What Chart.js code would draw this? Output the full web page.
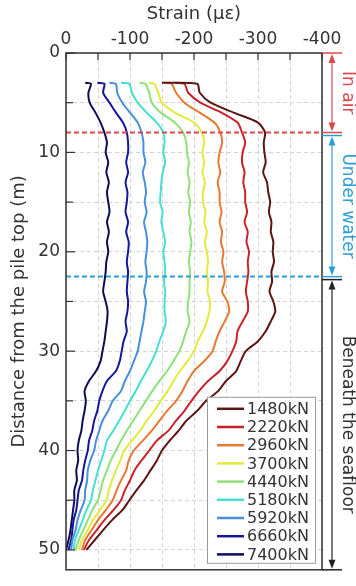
<!DOCTYPE html>
<html lang="en">
<head>
<meta charset="UTF-8">
<title>Strain along the pile</title>
<script src="https://cdn.jsdelivr.net/npm/chart.js"></script>
<style>
  html, body { margin: 0; padding: 0; background: #fff; }
</style>
</head>
<body>
<canvas id="strainChart" width="356" height="586"></canvas>
<script>
// depth below pile top (m), shared by every load case
const depths = [3, 3.1, 4, 5, 6, 7, 8, 9, 10, 11, 12, 13, 14, 15, 16, 17, 18, 19, 20, 21, 22, 23, 24, 25, 26,
                27, 28, 29, 30, 31, 32, 33, 34, 35, 36, 37, 38, 39, 40, 41, 42, 43, 44, 45, 46, 47, 48, 49, 50];

const loads = ['1480kN', '2220kN', '2960kN', '3700kN', '4440kN', '5180kN', '5920kN', '6660kN', '7400kN'];
const colors = ['#5c1414', '#c8232c', '#e67a35', '#e4ea3c', '#8fe07a', '#45e0d2', '#4a8fdc', '#16169a', '#0c0c58'];

// strain (με)
const strain1480 = [-150, -205, -209, -226, -262, -300, -311, -309, -310, -312, -308, -314, -316, -319, -317, -321, -320, -324, -323, -325, -321, -322, -318, -324, -327,
                    -320, -312, -300, -281, -273, -266, -250, -238, -219, -205, -188, -176, -162, -150, -142, -132, -122, -110, -99, -88, -72, -58, -45, -32];
const strain2220 = [-170, -185, -191, -210, -243, -268, -275, -280, -276, -275, -279, -277, -280, -280, -283, -279, -284, -282, -286, -284, -285, -283, -281, -284, -284,
                    -276, -268, -266, -260, -252, -240, -222, -208, -196, -185, -172, -160, -142, -130, -118, -107, -100, -92, -86, -74, -60, -48, -36, -28];
const strain2960 = [-156, -165, -172, -185, -209, -232, -241, -244, -240, -238, -241, -237, -240, -240, -243, -240, -244, -242, -246, -244, -247, -248, -244, -252, -255,
                    -248, -240, -234, -229, -216, -200, -190, -182, -172, -158, -146, -134, -120, -106, -98, -94, -86, -79, -73, -62, -50, -40, -30, -25];
const strain3700 = [-130, -138, -144, -150, -170, -200, -212, -216, -213, -216, -213, -217, -214, -214, -218, -216, -220, -217, -220, -222, -220, -222, -221, -225, -224,
                    -220, -214, -206, -200, -190, -178, -168, -159, -148, -138, -126, -116, -103, -91, -85, -78, -72, -67, -63, -53, -42, -34, -25, -20];
const strain4440 = [-115, -124, -130, -134, -148, -170, -183, -188, -189, -192, -190, -193, -191, -194, -192, -195, -193, -196, -194, -192, -194, -193, -193, -191, -190,
                    -193, -188, -183, -177, -168, -158, -146, -135, -125, -115, -105, -95, -86, -78, -70, -64, -58, -54, -50, -41, -34, -27, -20, -15];
const strain5180 = [-86, -99, -103, -112, -126, -142, -152, -154, -152, -155, -151, -149, -148, -147, -151, -149, -152, -155, -152, -154, -155, -153, -155, -154, -154,
                    -156, -152, -146, -141, -134, -126, -117, -109, -100, -92, -83, -74, -64, -60, -55, -50, -46, -42, -39, -32, -26, -20, -14, -12];
const strain5920 = [-68, -78, -80, -88, -100, -112, -118, -121, -121, -124, -120, -123, -125, -123, -126, -122, -125, -127, -126, -124, -126, -125, -122, -125, -123,
                    -121, -118, -115, -112, -106, -100, -92, -86, -73, -66, -57, -52, -47, -44, -38, -34, -33, -30, -29, -23, -18, -15, -10, -8];
const strain6660 = [-49, -60, -58, -68, -78, -89, -95, -97, -97, -94, -97, -93, -96, -95, -93, -97, -94, -98, -97, -95, -97, -96, -95, -97, -96,
                    -93, -95, -90, -87, -84, -78, -64, -57, -52, -49, -44, -41, -36, -34, -30, -27, -25, -20, -18, -16, -12, -10, -8, -4];
const strain7400 = [-30, -39, -35, -37, -46, -54, -60, -64, -62, -66, -63, -67, -64, -66, -68, -64, -67, -64, -66, -63, -62, -60, -58, -62, -65,
                    -64, -62, -60, -57, -54, -47, -36, -29, -31, -29, -26, -24, -20, -18, -19, -16, -17, -13, -13, -11, -9, -7, -4, 0];

const strainSets = [strain1480, strain2220, strain2960, strain3700, strain4440, strain5180, strain5920, strain6660, strain7400];

// zone boundaries (m) and labels on the right side
const zoneDepths = [0, 8, 22.5, 52];
const zoneNames = ['In air', 'Under water', 'Beneath the seafloor'];
const zoneColors = ['#e0474c', '#2c9fd2', '#222222'];

const FONT = "'DejaVu Sans', sans-serif";
const TEXT = '#333333';

const decor = {
    id: 'decor',
    afterDatasetsDraw(chart) {
        const ctx = chart.ctx;
        const a = chart.chartArea;
        const xs = chart.scales.x, ys = chart.scales.y;
        ctx.save();

        // dashed boundary lines across the plot
        [1, 2].forEach(i => {
            const py = ys.getPixelForValue(zoneDepths[i]);
            ctx.strokeStyle = zoneColors[i - 1];
            ctx.lineWidth = 2;
            ctx.setLineDash([5, 3]);
            ctx.beginPath();
            ctx.moveTo(a.left, py);
            ctx.lineTo(a.right, py);
            ctx.stroke();
        });
        ctx.setLineDash([]);

        // frame
        ctx.strokeStyle = '#333';
        ctx.lineWidth = 1.5;
        ctx.strokeRect(a.left, a.top, a.right - a.left, a.bottom - a.top);

        // inward ticks
        ctx.lineWidth = 1.2;
        xs.ticks.forEach(t => {
            const px = xs.getPixelForValue(t.value);
            ctx.beginPath();
            ctx.moveTo(px, a.top);
            ctx.lineTo(px, a.top + 7);
            ctx.stroke();
        });
        ys.ticks.forEach(t => {
            const py = ys.getPixelForValue(t.value);
            ctx.beginPath();
            ctx.moveTo(a.left, py);
            ctx.lineTo(a.left + (t.value % 10 === 0 ? 9 : 7), py);
            ctx.stroke();
        });

        // zone marks on the right
        const x0 = a.right, x1 = a.right + 20, ax = a.right + 10;
        const hline = (py, col) => {
            ctx.strokeStyle = col;
            ctx.lineWidth = 1.5;
            ctx.beginPath();
            ctx.moveTo(x0, py);
            ctx.lineTo(x1, py);
            ctx.stroke();
        };
        const head = (py, dir, col) => {
            ctx.fillStyle = col;
            ctx.beginPath();
            ctx.moveTo(ax, py);
            ctx.lineTo(ax - 3.5, py + dir * 9);
            ctx.lineTo(ax + 3.5, py + dir * 9);
            ctx.closePath();
            ctx.fill();
        };
        for (let k = 0; k < 3; k++) {
            const col = zoneColors[k];
            const top = ys.getPixelForValue(zoneDepths[k]) + (k > 0 ? 3 : 0);
            const bot = ys.getPixelForValue(zoneDepths[k + 1]);
            hline(top, col);
            hline(bot, col);
            ctx.strokeStyle = col;
            ctx.lineWidth = 1.2;
            ctx.beginPath();
            ctx.moveTo(ax, top + 4);
            ctx.lineTo(ax, bot - 4);
            ctx.stroke();
            head(top + 1, 1, col);
            head(bot - 1, -1, col);

            ctx.save();
            ctx.translate(a.right + 25, (top + bot) / 2);
            ctx.rotate(Math.PI / 2);
            ctx.fillStyle = col === '#222222' ? TEXT : col;
            ctx.font = '17px ' + FONT;
            ctx.textAlign = 'center';
            ctx.textBaseline = 'middle';
            ctx.fillText(zoneNames[k], 0, 0);
            ctx.restore();
        }

        // legend box
        const lx = a.right - 115, ly = a.bottom - 173;
        ctx.fillStyle = '#fff';
        ctx.fillRect(lx, ly, 108, 166);
        ctx.strokeStyle = '#9a9a9a';
        ctx.lineWidth = 1;
        ctx.strokeRect(lx + 0.5, ly + 0.5, 108, 166);
        ctx.font = '16px ' + FONT;
        ctx.textAlign = 'left';
        ctx.textBaseline = 'middle';
        chart.data.datasets.forEach((ds, i) => {
            const cy = ly + 12 + i * 18.2;
            ctx.strokeStyle = ds.borderColor;
            ctx.lineWidth = 2.5;
            ctx.beginPath();
            ctx.moveTo(lx + 10, cy);
            ctx.lineTo(lx + 37, cy);
            ctx.stroke();
            ctx.fillStyle = TEXT;
            ctx.fillText(ds.label, lx + 40, cy + 1);
        });

        ctx.restore();
    }
};

const ctx = document.getElementById('strainChart').getContext('2d');
new Chart(ctx, {
    type: 'line',
    data: {
        datasets: loads.map((name, i) => ({
            label: name,
            data: depths.map((d, j) => ({ x: strainSets[i][j], y: d })),
            borderColor: colors[i],
            backgroundColor: colors[i],
            borderWidth: 2,
            pointRadius: 0,
            tension: 0.25,
            fill: false
        }))
    },
    options: {
        responsive: false,
        animation: false,
        devicePixelRatio: 1,
        layout: { padding: { left: 0, top: 0, right: 34, bottom: 3 } },
        plugins: {
            legend: { display: false },
            tooltip: { enabled: false }
        },
        scales: {
            x: {
                type: 'linear',
                position: 'top',
                reverse: true,
                min: -400,
                max: 0,
                afterFit(scale) { scale.height = 53; },
                ticks: {
                    stepSize: 50,
                    includeBounds: false,
                    autoSkip: false,
                    maxRotation: 0,
                    padding: 3,
                    color: TEXT,
                    font: { family: FONT, size: 17 },
                    callback: v => (v % 100 === 0 ? v : '')
                },
                grid: { color: '#d4d4d4', lineWidth: 1, drawTicks: false },
                border: { display: false, dash: [4, 3] },
                title: {
                    display: true,
                    text: 'Strain (με)',
                    color: TEXT,
                    font: { family: FONT, size: 18 },
                    padding: { top: 4, bottom: 0 }
                }
            },
            y: {
                type: 'linear',
                reverse: true,
                min: 0,
                max: 52,
                afterFit(scale) { scale.width = 66; },
                ticks: {
                    stepSize: 5,
                    includeBounds: false,
                    autoSkip: false,
                    padding: 6,
                    color: TEXT,
                    font: { family: FONT, size: 17 },
                    callback: v => (v % 10 === 0 ? v : '')
                },
                grid: { color: '#d4d4d4', lineWidth: 1, drawTicks: false },
                border: { display: false, dash: [4, 3] },
                title: {
                    display: true,
                    text: 'Distance from the pile top (m)',
                    color: TEXT,
                    font: { family: FONT, size: 18 },
                    padding: { top: 9, bottom: 0 }
                }
            }
        }
    },
    plugins: [decor]
});
</script>
</body>
</html>
